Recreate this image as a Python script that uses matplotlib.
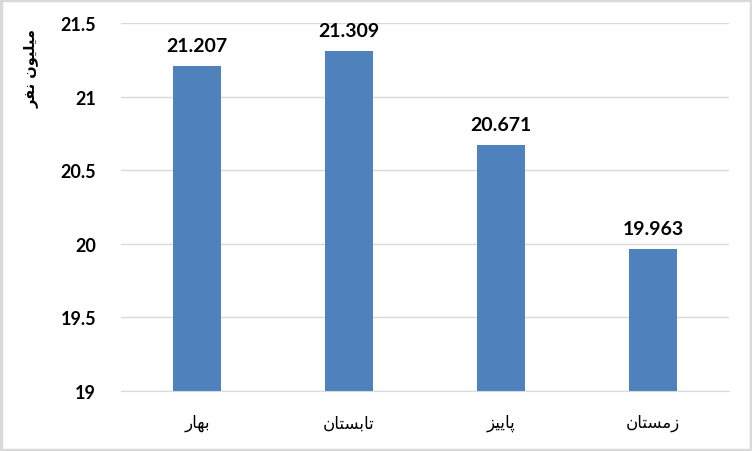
import matplotlib
matplotlib.use("Agg")
import matplotlib.pyplot as plt
from matplotlib.patches import Rectangle

# Persian labels written in presentation forms (visual order) so they render joined
categories = ["\uFEAD\uFE8E\uFEEC\uFE91",                       # بهار
              "\uFEE5\uFE8E\uFE98\uFEB4\uFE91\uFE8E\uFE97",     # تابستان
              "\uFEB0\uFBFF\uFBFE\uFE8E\uFB58",                 # پاییز
              "\uFEE5\uFE8E\uFE98\uFEB4\uFEE3\uFEAF"]           # زمستان
values = [21.207, 21.309, 20.671, 19.963]
value_labels = ["21.207", "21.309", "20.671", "19.963"]
y_ticks = [19, 19.5, 20, 20.5, 21, 21.5]
y_tick_labels = ["19", "19.5", "20", "20.5", "21", "21.5"]
y_label = "\uFEAE\uFED4\uFEE7 \uFEE5\uFEEE\uFBFF\uFEE0\uFBFF\uFEE3"  # میلیون نفر

plt.rcParams['font.family'] = ['Lato', 'DejaVu Sans']

fig = plt.figure(figsize=(7.52, 4.52), dpi=100)
ax = fig.add_axes([121/752, 1-392/452, (729-121)/752, (392-24)/452])

x = list(range(len(categories)))
bars = ax.bar(x, values, width=0.31, color="#4f81bd", zorder=3)
ax.set_ylim(19, 21.5)
ax.set_xlim(-0.5, len(categories)-0.5)
ax.set_yticks(y_ticks)
ax.set_yticklabels(y_tick_labels, fontsize=13, fontweight='bold')
ax.set_xticks(x)
ax.set_xticklabels(categories, fontsize=12, family=['DejaVu Sans'])
ax.tick_params(axis='y', length=0, pad=18)
ax.tick_params(axis='x', length=0, pad=16)
ax.grid(axis='y', color="#d9d9d9", linewidth=1, zorder=0)
for s in ['top', 'right', 'left']:
    ax.spines[s].set_visible(False)
ax.spines['bottom'].set_color("#d9d9d9")
ax.spines['bottom'].set_zorder(4)

for xi, v, lab in zip(x, values, value_labels):
    ax.annotate(lab, (xi, v), xytext=(0, 9), textcoords='offset points',
                ha='center', va='bottom', fontsize=14, fontweight='bold')

fig.text(31/752, 1-68/452, y_label, rotation=90, ha='center', va='center',
         fontsize=10.5, fontweight='bold', family=['DejaVu Sans'])

fig.patches.append(Rectangle((0.0015, 0.0025), 0.997, 0.995, transform=fig.transFigure,
                             fill=False, edgecolor="#d9d9d9", linewidth=2.5))

fig.savefig("out.png", dpi=100)
